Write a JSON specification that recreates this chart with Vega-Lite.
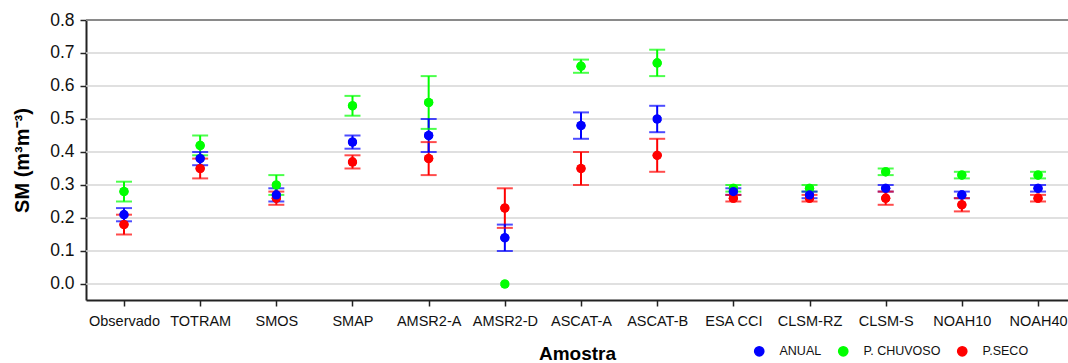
{
  "$schema": "https://vega.github.io/schema/vega-lite/v6.json",
  "autosize": {"type": "none"},
  "width": 982,
  "height": 280,
  "padding": {"left": 86, "top": 20, "right": 0, "bottom": 63},
  "background": "white",
  "config": {
    "font": "Liberation Sans",
    "view": {"stroke": null},
    "axis": {"labelFont": "Liberation Sans", "titleFont": "Liberation Sans"}
  },
  "datasets": {
    "grade": [
      {"g": 0.0, "c": "grid"}, {"g": 0.1, "c": "grid"}, {"g": 0.2, "c": "grid"},
      {"g": 0.3, "c": "grid"}, {"g": 0.4, "c": "grid"}, {"g": 0.5, "c": "grid"},
      {"g": 0.6, "c": "grid"}, {"g": 0.7, "c": "grid"}, {"g": 0.8, "c": "top"}
    ]
  },
  "data": {
    "values": [
      {"amostra": "Observado", "serie": "P. CHUVOSO", "sm": 0.28, "lo": 0.25, "hi": 0.31},
      {"amostra": "Observado", "serie": "P.SECO", "sm": 0.18, "lo": 0.15, "hi": 0.21},
      {"amostra": "Observado", "serie": "ANUAL", "sm": 0.21, "lo": 0.19, "hi": 0.23},
      {"amostra": "TOTRAM", "serie": "P. CHUVOSO", "sm": 0.42, "lo": 0.39, "hi": 0.45},
      {"amostra": "TOTRAM", "serie": "P.SECO", "sm": 0.35, "lo": 0.32, "hi": 0.38},
      {"amostra": "TOTRAM", "serie": "ANUAL", "sm": 0.38, "lo": 0.36, "hi": 0.40},
      {"amostra": "SMOS", "serie": "P. CHUVOSO", "sm": 0.30, "lo": 0.27, "hi": 0.33},
      {"amostra": "SMOS", "serie": "P.SECO", "sm": 0.26, "lo": 0.24, "hi": 0.28},
      {"amostra": "SMOS", "serie": "ANUAL", "sm": 0.27, "lo": 0.25, "hi": 0.29},
      {"amostra": "SMAP", "serie": "P. CHUVOSO", "sm": 0.54, "lo": 0.51, "hi": 0.57},
      {"amostra": "SMAP", "serie": "P.SECO", "sm": 0.37, "lo": 0.35, "hi": 0.39},
      {"amostra": "SMAP", "serie": "ANUAL", "sm": 0.43, "lo": 0.41, "hi": 0.45},
      {"amostra": "AMSR2-A", "serie": "P. CHUVOSO", "sm": 0.55, "lo": 0.47, "hi": 0.63},
      {"amostra": "AMSR2-A", "serie": "P.SECO", "sm": 0.38, "lo": 0.33, "hi": 0.43},
      {"amostra": "AMSR2-A", "serie": "ANUAL", "sm": 0.45, "lo": 0.40, "hi": 0.50},
      {"amostra": "AMSR2-D", "serie": "P. CHUVOSO", "sm": 0.0, "lo": null, "hi": null},
      {"amostra": "AMSR2-D", "serie": "P.SECO", "sm": 0.23, "lo": 0.17, "hi": 0.29},
      {"amostra": "AMSR2-D", "serie": "ANUAL", "sm": 0.14, "lo": 0.10, "hi": 0.18},
      {"amostra": "ASCAT-A", "serie": "P. CHUVOSO", "sm": 0.66, "lo": 0.64, "hi": 0.68},
      {"amostra": "ASCAT-A", "serie": "P.SECO", "sm": 0.35, "lo": 0.30, "hi": 0.40},
      {"amostra": "ASCAT-A", "serie": "ANUAL", "sm": 0.48, "lo": 0.44, "hi": 0.52},
      {"amostra": "ASCAT-B", "serie": "P. CHUVOSO", "sm": 0.67, "lo": 0.63, "hi": 0.71},
      {"amostra": "ASCAT-B", "serie": "P.SECO", "sm": 0.39, "lo": 0.34, "hi": 0.44},
      {"amostra": "ASCAT-B", "serie": "ANUAL", "sm": 0.50, "lo": 0.46, "hi": 0.54},
      {"amostra": "ESA CCI", "serie": "P. CHUVOSO", "sm": 0.29, "lo": 0.28, "hi": 0.30},
      {"amostra": "ESA CCI", "serie": "P.SECO", "sm": 0.26, "lo": 0.25, "hi": 0.27},
      {"amostra": "ESA CCI", "serie": "ANUAL", "sm": 0.28, "lo": 0.27, "hi": 0.29},
      {"amostra": "CLSM-RZ", "serie": "P. CHUVOSO", "sm": 0.29, "lo": 0.28, "hi": 0.30},
      {"amostra": "CLSM-RZ", "serie": "P.SECO", "sm": 0.26, "lo": 0.25, "hi": 0.27},
      {"amostra": "CLSM-RZ", "serie": "ANUAL", "sm": 0.27, "lo": 0.26, "hi": 0.28},
      {"amostra": "CLSM-S", "serie": "P. CHUVOSO", "sm": 0.34, "lo": 0.33, "hi": 0.35},
      {"amostra": "CLSM-S", "serie": "P.SECO", "sm": 0.26, "lo": 0.24, "hi": 0.28},
      {"amostra": "CLSM-S", "serie": "ANUAL", "sm": 0.29, "lo": 0.28, "hi": 0.30},
      {"amostra": "NOAH10", "serie": "P. CHUVOSO", "sm": 0.33, "lo": 0.32, "hi": 0.34},
      {"amostra": "NOAH10", "serie": "P.SECO", "sm": 0.24, "lo": 0.22, "hi": 0.26},
      {"amostra": "NOAH10", "serie": "ANUAL", "sm": 0.27, "lo": 0.26, "hi": 0.28},
      {"amostra": "NOAH40", "serie": "P. CHUVOSO", "sm": 0.33, "lo": 0.32, "hi": 0.34},
      {"amostra": "NOAH40", "serie": "P.SECO", "sm": 0.26, "lo": 0.25, "hi": 0.27},
      {"amostra": "NOAH40", "serie": "ANUAL", "sm": 0.29, "lo": 0.28, "hi": 0.30}
    ]
  },
  "layer": [
    {
      "mark": {"type": "circle", "size": 85, "opacity": 1},
      "encoding": {
        "x": {
          "field": "amostra",
          "type": "nominal",
          "sort": null,
          "scale": {"type": "point", "padding": 0.446, "align": 0.559},
          "axis": {
            "title": "Amostra",
            "labelAngle": 0,
            "labelFontSize": 14.5,
            "labelColor": "#111",
            "labelPadding": 8,
            "tickSize": 6,
            "tickColor": "#222",
            "tickWidth": 1.5,
            "domainColor": "#222",
            "domainWidth": 2,
            "titleFontSize": 19,
            "titleFontWeight": "bold",
            "titleColor": "#000",
            "titlePadding": 17
          }
        },
        "y": {
          "field": "sm",
          "type": "quantitative",
          "scale": {"domain": [-0.0485, 0.8], "nice": false, "zero": false},
          "axis": {
            "title": "SM (m³m⁻³)",
            "values": [0, 0.1, 0.2, 0.3, 0.4, 0.5, 0.6, 0.7, 0.8],
            "tickCount": 9,
            "format": ".1f",
            "labelOverlap": false,
            "labelFontSize": 17.5,
            "labelColor": "#111",
            "labelPadding": 6,
            "tickSize": 6,
            "tickColor": "#222",
            "tickWidth": 1.5,
            "domainColor": "#222",
            "domainWidth": 2,
            "grid": false,
            "titleFontSize": 20,
            "titleFontWeight": "bold",
            "titleColor": "#000",
            "titlePadding": 17
          }
        },
        "color": {
          "field": "serie",
          "type": "nominal",
          "scale": {"domain": ["ANUAL", "P. CHUVOSO", "P.SECO"], "range": ["#0000ff", "#00ff00", "#ff0000"]},
          "legend": {
            "title": null,
            "orient": "none",
            "direction": "horizontal",
            "legendX": 667,
            "legendY": 325,
            "padding": 0,
            "symbolType": "circle",
            "symbolSize": 85,
            "labelFontSize": 12.5,
            "labelColor": "#111",
            "labelOffset": 14,
            "columnPadding": 13
          }
        }
      }
    },
    {
      "data": {"name": "grade"},
      "mark": {"type": "rule"},
      "encoding": {
        "y": {"field": "g", "type": "quantitative"},
        "stroke": {
          "field": "c",
          "type": "nominal",
          "scale": {"domain": ["grid", "top"], "range": ["#d6d6d6", "#8a8a8a"]},
          "legend": null
        },
        "strokeWidth": {
          "field": "c",
          "type": "nominal",
          "scale": {"domain": ["grid", "top"], "range": [1.5, 2]},
          "legend": null
        }
      }
    },
    {
      "mark": {"type": "rule", "strokeWidth": 2},
      "encoding": {
        "x": {"field": "amostra", "type": "nominal", "sort": null},
        "y": {"field": "lo", "type": "quantitative"},
        "y2": {"field": "hi"},
        "color": {"field": "serie", "type": "nominal"}
      }
    },
    {
      "mark": {"type": "tick", "size": 16, "thickness": 2},
      "encoding": {
        "x": {"field": "amostra", "type": "nominal", "sort": null},
        "y": {"field": "lo", "type": "quantitative"},
        "color": {"field": "serie", "type": "nominal"}
      }
    },
    {
      "mark": {"type": "tick", "size": 16, "thickness": 2},
      "encoding": {
        "x": {"field": "amostra", "type": "nominal", "sort": null},
        "y": {"field": "hi", "type": "quantitative"},
        "color": {"field": "serie", "type": "nominal"}
      }
    },
    {
      "mark": {"type": "circle", "size": 85, "opacity": 1},
      "encoding": {
        "x": {"field": "amostra", "type": "nominal", "sort": null},
        "y": {"field": "sm", "type": "quantitative"},
        "color": {"field": "serie", "type": "nominal"}
      }
    }
  ]
}
